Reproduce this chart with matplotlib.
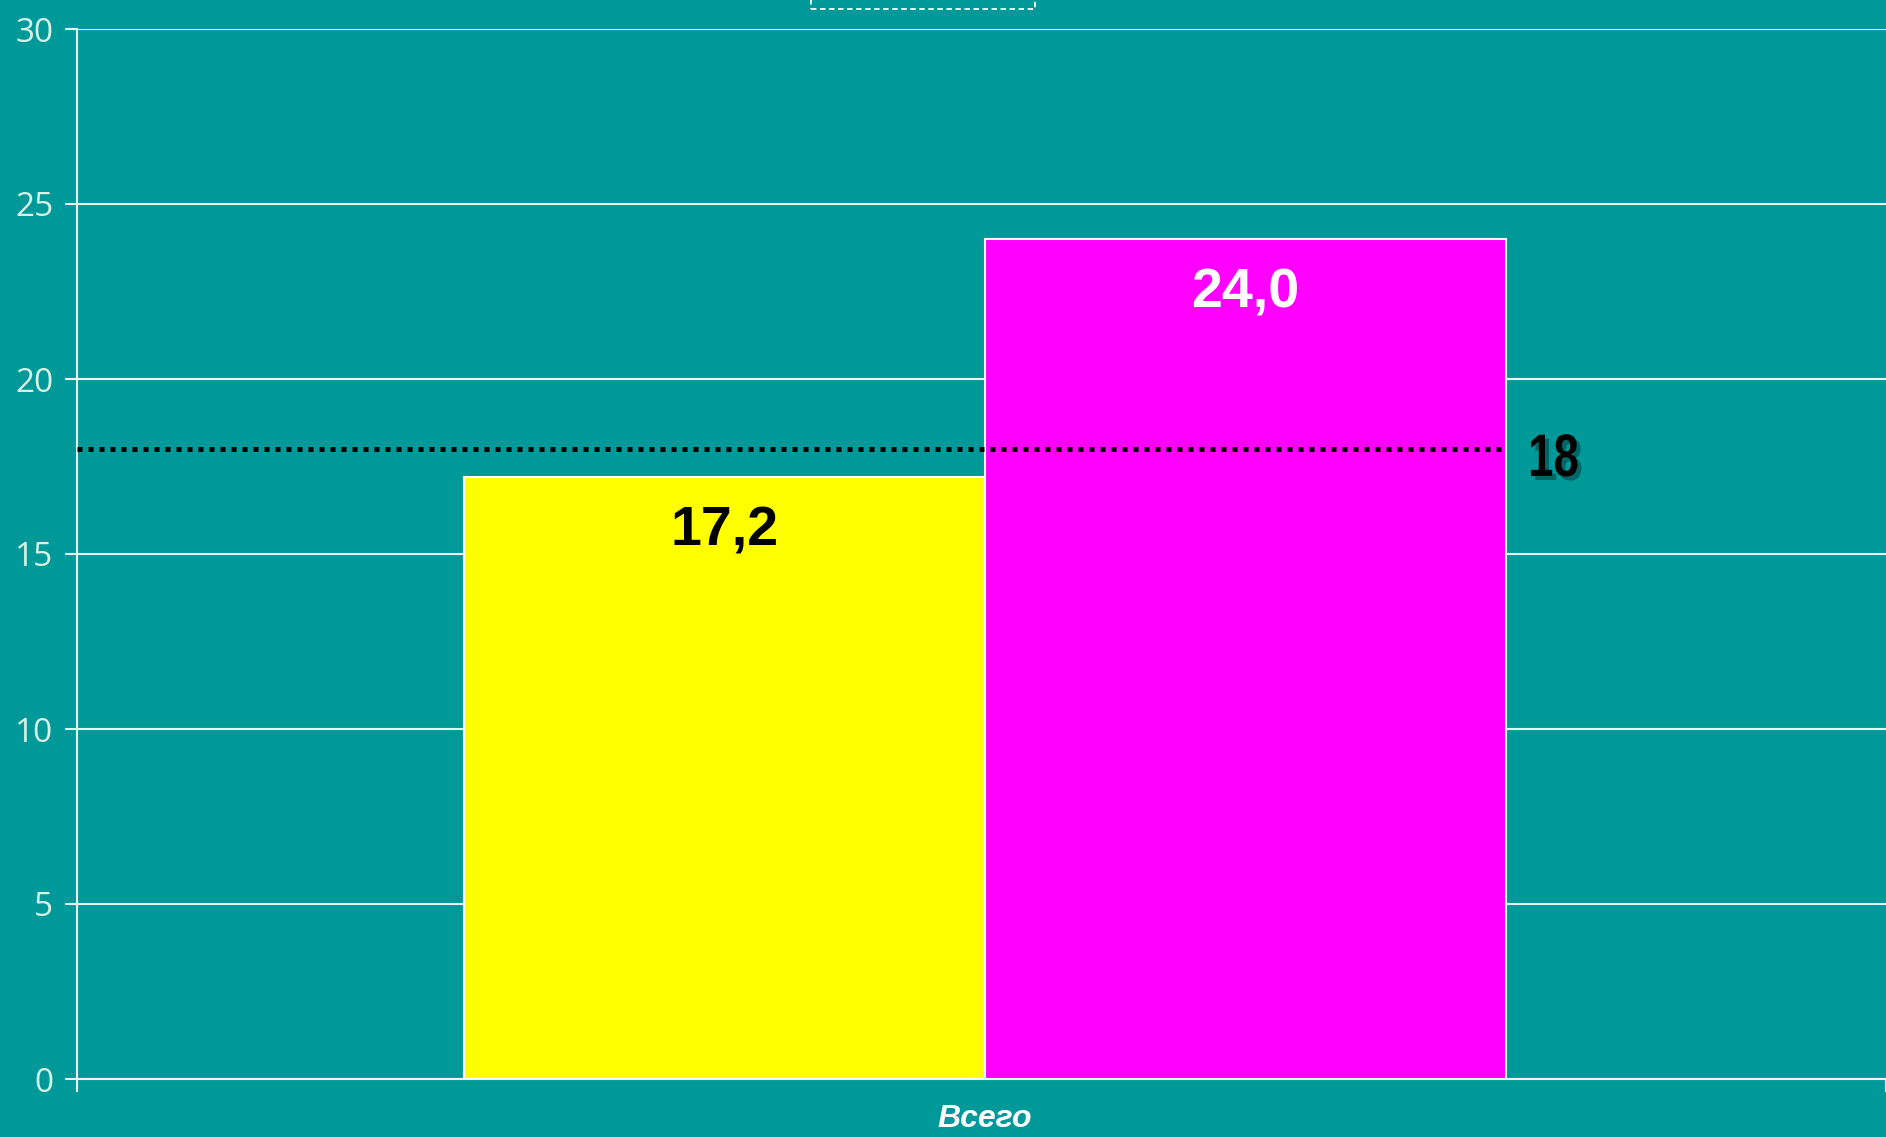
import matplotlib
matplotlib.use("Agg")
import matplotlib.pyplot as plt
import matplotlib.patches as mpatches
from matplotlib.textpath import TextPath
from matplotlib.font_manager import FontProperties
from matplotlib.transforms import Affine2D, IdentityTransform

categories = ["Всего"]
series_values = [17.2, 24.0]
series_colors = ["#ffff00", "#ff00ff"]
value_labels = ["17,2", "24,0"]
label_colors = ["black", "white"]
ref_value = 18
yticks = [0, 5, 10, 15, 20, 25, 30]

BG = "#009999"
W, H = 1886, 1137
fig = plt.figure(figsize=(W / 100, H / 100), dpi=100, facecolor=BG)
ax = fig.add_axes([77 / W, 1 - 1079 / H, (W - 77) / W, (1079 - 29) / H])
ax.set_facecolor(BG)

bw = 0.288
offsets = [-bw / 2, bw / 2]
for off, v, c, lab, lc in zip(offsets, series_values, series_colors, value_labels, label_colors):
    ax.bar(off, v, width=bw, color=c, edgecolor="white", linewidth=1.5, zorder=3)
    ax.text(off, v - 1.55, lab, ha="center", va="center", fontsize=40, fontweight="bold",
            color=lc, family="Liberation Sans", zorder=5)

ax.set_xlim(-0.502, 0.498)
ax.set_ylim(0, 30)

# reference line
ax.plot([-0.502, bw], [ref_value, ref_value], color="black", linestyle=(0, (1, 1.2)),
        linewidth=3.6, zorder=4, solid_capstyle="butt")

# condensed "18" label with shadow
fp = FontProperties(family="Liberation Sans", weight="bold")
tp = TextPath((0, 0), str(ref_value), size=60, prop=fp)
x0, y0 = ax.transData.transform((bw, ref_value))
x0 += 22
sx, sy = 0.76, 1.0
ybase = y0 - 27
for dx, dy, col, z in [(4, -4, "#006666", 5), (0, 0, "black", 6)]:
    tr = Affine2D().scale(sx, sy).translate(x0 + dx, ybase + dy) + IdentityTransform()
    fig.patches.append(mpatches.PathPatch(tp, transform=tr, facecolor=col, edgecolor="none", zorder=z))

ax.set_yticks(yticks)
ax.set_yticklabels([str(t) for t in yticks], fontsize=24, color="#d8f2e4", family="Open Sans")
ax.yaxis.grid(True, color="#e6f7f4", linewidth=1.5, zorder=1)
ax.set_axisbelow(True)
ax.tick_params(axis="y", length=9, width=1.5, color="#e6f7f4", pad=8)

ax.set_xticks([-0.502, 0.498])
ax.set_xticklabels(["", ""])
ax.tick_params(axis="x", length=9, width=1.5, color="#e6f7f4")
ax.set_xticks([0], minor=True)
ax.set_xticklabels(categories, minor=True, fontsize=23, fontstyle="italic", fontweight="bold",
                   color="white", family="Liberation Sans")
ax.tick_params(axis="x", which="minor", length=0, pad=18)

for s in ["top", "right"]:
    ax.spines[s].set_visible(False)
for s in ["left", "bottom"]:
    ax.spines[s].set_color("#e6f7f4")
    ax.spines[s].set_linewidth(1.5)

# clipped legend box at top
rect = mpatches.Rectangle((811 / W, 1 - 9 / H), (1035 - 811) / W, 40 / H, transform=fig.transFigure,
                          fill=False, edgecolor="white", linestyle=(0, (3, 2)), linewidth=1.3)
fig.patches.append(rect)

fig.savefig("out.png", dpi=100, facecolor=BG)
